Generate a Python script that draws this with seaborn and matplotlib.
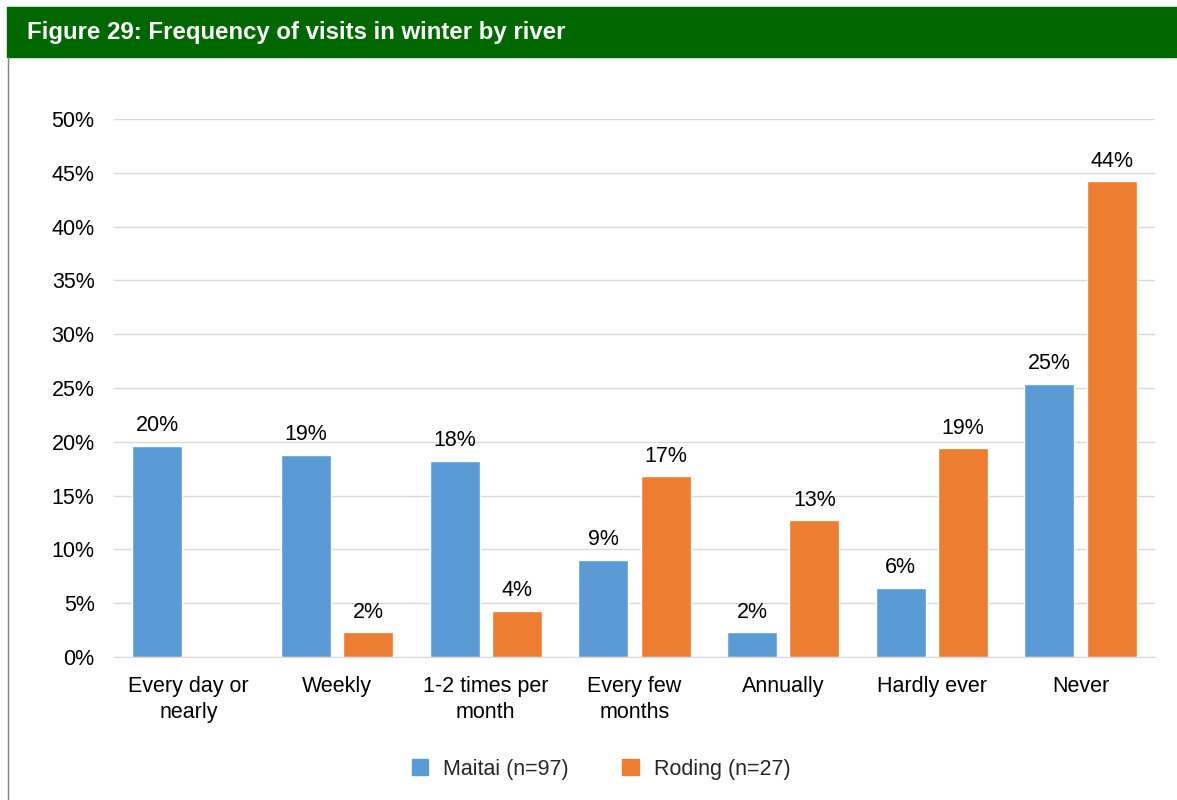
import numpy as np
import matplotlib.pyplot as plt
import matplotlib.patches as mpatches
import seaborn as sns
import pandas as pd

categories = ["Every day or\nnearly", "Weekly", "1-2 times per\nmonth", "Every few\nmonths",
              "Annually", "Hardly ever", "Never"]
maitai = [19.6, 18.8, 18.2, 9.0, 2.3, 6.4, 25.4]
roding = [0.0, 2.3, 4.3, 16.8, 12.7, 19.4, 44.2]
series_names = ["Maitai (n=97)", "Roding (n=27)"]
colors = ["#5B9BD5", "#ED7D31"]

df = pd.DataFrame({
    "Category": categories * 2,
    "Value": maitai + roding,
    "River": [series_names[0]] * len(categories) + [series_names[1]] * len(categories),
})

sns.set_style("white")
plt.rcParams['font.family'] = ['Liberation Sans', 'DejaVu Sans']
fs = 15.5

fig = plt.figure(figsize=(11.77, 8), dpi=100)
ax = fig.add_axes([114 / 1177, 143 / 800, (1155 - 114) / 1177, (657 - 119) / 800])

sns.barplot(data=df, x="Category", y="Value", hue="River", palette=colors,
            width=0.84, gap=0.2, ax=ax, legend=False, saturation=1)

ax.set_ylim(0, 50)
ax.set_xlim(-0.5, len(categories) - 0.5)
ax.set_yticks(np.arange(0, 51, 5))
ax.set_yticklabels([f"{v}%" for v in range(0, 51, 5)], fontsize=fs, color="#000000")
ax.tick_params(axis="x", labelsize=fs, colors="#000000", length=0, pad=14)
ax.tick_params(axis="y", length=0, pad=14)
for lbl in ax.get_xticklabels():
    lbl.set_linespacing(1.3)
ax.set_xlabel("")
ax.set_ylabel("")
ax.yaxis.grid(True, color="#d9d9d9", linewidth=1)
ax.set_axisbelow(True)
for s in ["top", "right", "left"]:
    ax.spines[s].set_visible(False)
ax.spines["bottom"].set_color("#d9d9d9")

for cont, vals in zip(ax.containers, [maitai, roding]):
    labels = [f"{round(v):.0f}%" if v > 0 else "" for v in vals]
    ax.bar_label(cont, labels=labels, padding=7, fontsize=fs, color="#000000")

# header band
fig.patches.append(mpatches.Rectangle((7 / 1177, 1 - 57 / 800), 1, 50 / 800,
                                      transform=fig.transFigure, color="#006600", zorder=0))
fig.text(27 / 1177, 1 - 33 / 800, "Figure 29: Frequency of visits in winter by river",
         color="white", fontsize=17.3, fontweight="bold", va="center", ha="left")
# left border
fig.add_artist(plt.Line2D([8 / 1177, 8 / 1177], [0, 1 - 57 / 800], transform=fig.transFigure,
                          color="#808080", linewidth=1))

handles = [mpatches.Patch(color=c, label=n) for c, n in zip(colors, series_names)]
fig.legend(handles=handles, loc="center", bbox_to_anchor=(601 / 1177, 1 - 769 / 800),
           ncol=2, frameon=False, fontsize=fs, handlelength=0.75, handleheight=0.75,
           columnspacing=2.5, handletextpad=0.7)

fig.savefig("out.png", dpi=100)
